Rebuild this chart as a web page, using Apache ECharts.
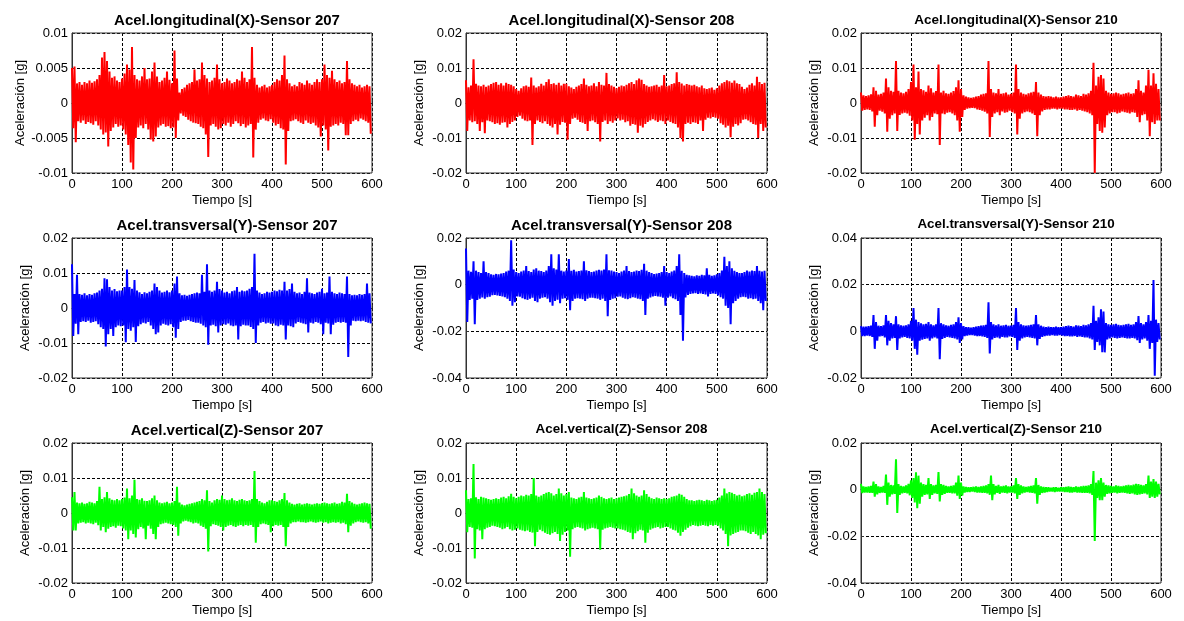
<!DOCTYPE html>
<html><head><meta charset="utf-8">
<script src="https://cdn.jsdelivr.net/npm/echarts@6/dist/echarts.min.js"></script>
<style>html,body{margin:0;padding:0;background:#fff}#c{width:1184px;height:621px}</style>
</head><body><div id="c"></div>
<script>
// ---- DATA (acceleration envelopes, in mg = 0.001 g; one hi/lo pair per 5 s bin) ----
const binSeconds = 5;
const xTicks = [0, 100, 200, 300, 400, 500, 600];

const titles = [
  'Acel.longitudinal(X)-Sensor 207', 'Acel.longitudinal(X)-Sensor 208', 'Acel.longitudinal(X)-Sensor 210',
  'Acel.transversal(Y)-Sensor 207', 'Acel.transversal(Y)-Sensor 208', 'Acel.transversal(Y)-Sensor 210',
  'Acel.vertical(Z)-Sensor 207', 'Acel.vertical(Z)-Sensor 208', 'Acel.vertical(Z)-Sensor 210'
];

const yTicksX207 = [-0.01, -0.005, 0, 0.005, 0.01];
const yTicks20 = [-0.02, -0.01, 0, 0.01, 0.02];
const yTicksLow40 = [-0.04, -0.02, 0, 0.02];
const yTicksHigh40 = [-0.02, 0, 0.02, 0.04];

// X - Sensor 207
const hiX207 = [5.0,5.2,2.8,3.0,2.6,3.0,2.8,3.2,2.9,3.1, 3.4,4.0,6.5,7.3,6.0,4.5,3.6,3.8,3.2,3.0, 3.5,4.2,5.5,4.8,8.0,4.0,3.4,3.2,3.8,5.0, 3.4,3.5,4.5,5.8,3.8,3.0,3.2,3.6,4.5,3.3, 2.8,7.5,3.5,1.5,2.0,2.2,2.6,2.8,3.0,4.8, 3.2,3.4,5.8,4.0,3.5,3.0,3.2,3.6,5.5,3.4, 2.8,3.0,3.5,3.2,2.8,3.0,3.4,3.2,4.5,3.6, 3.0,3.4,8.0,3.6,2.6,2.2,2.4,2.6,2.2,2.4, 2.6,3.0,3.4,3.2,4.0,6.8,3.4,2.8,2.4,2.6, 2.4,3.0,2.8,2.6,3.2,2.8,2.6,3.0,3.4,3.0, 3.4,5.5,4.0,3.6,4.6,3.4,3.0,3.2,2.8,3.0, 6.0,3.4,2.8,2.6,2.4,2.6,2.2,2.4,2.6,2.4];
const loX207 = [-3.6,-5.6,-2.6,-2.8,-2.5,-3.0,-2.7,-2.9,-3.1,-2.6, -3.2,-3.8,-4.5,-4.2,-6.2,-4.0,-3.5,-3.0,-3.4,-3.2, -3.8,-4.5,-6.0,-8.5,-9.5,-5.0,-3.5,-3.2,-3.6,-3.0, -3.8,-5.2,-5.5,-4.8,-3.5,-3.2,-3.0,-3.4,-3.3,-3.6, -3.5,-5.0,-2.5,-1.5,-1.8,-2.0,-2.4,-2.6,-2.8,-2.9, -3.0,-3.4,-3.6,-4.5,-7.7,-3.2,-3.0,-3.4,-3.8,-3.6, -3.0,-3.2,-2.8,-3.4,-3.0,-2.6,-2.9,-3.3,-3.0,-3.5, -3.2,-3.0,-7.8,-3.8,-2.8,-2.4,-2.2,-2.5,-2.6,-2.3, -2.8,-3.2,-3.0,-3.6,-3.8,-8.8,-4.0,-2.6,-2.5,-2.3, -2.6,-2.8,-3.0,-2.5,-2.8,-3.0,-2.8,-3.2,-3.5,-4.8, -3.2,-3.8,-6.8,-3.4,-3.2,-3.0,-3.2,-2.8,-3.0,-4.6, -4.6,-3.0,-2.6,-2.4,-2.6,-2.2,-2.4,-2.6,-2.8,-4.4];

// X - Sensor 208
const hiX208 = [6.5,4.5,5.0,12.5,5.5,5.0,4.8,5.2,4.6,5.0, 5.4,5.8,6.0,5.2,5.6,5.0,5.8,5.4,5.2,4.8, 4.0,3.5,4.2,4.8,5.0,4.6,7.3,5.0,4.4,4.8, 5.5,5.0,6.0,6.8,5.4,5.6,5.2,5.8,5.0,5.5, 5.5,4.8,4.4,4.0,4.6,5.0,5.4,7.0,5.2,4.8, 5.0,5.6,4.8,6.0,5.2,5.0,8.6,5.4,5.0,4.6, 4.2,4.6,5.0,4.8,5.2,5.6,6.0,5.4,6.5,7.0, 6.6,5.4,5.0,4.6,4.8,5.0,5.2,4.6,5.0,8.0, 4.8,5.0,5.4,5.6,8.8,6.0,5.6,5.0,5.4,5.2, 5.0,5.2,4.8,4.5,5.0,4.2,4.0,4.2,4.4,3.8, 4.2,5.0,5.6,6.0,6.5,6.2,5.8,6.4,5.6,5.4, 4.6,4.0,4.4,5.2,5.6,5.0,7.5,6.0,5.4,5.8];
const loX208 = [-8.0,-5.0,-5.5,-5.2,-6.0,-8.0,-5.5,-8.6,-5.0,-5.2, -5.5,-6.0,-5.8,-6.2,-5.6,-5.5,-7.0,-6.0,-5.4,-5.0, -4.0,-3.6,-4.5,-5.0,-5.2,-5.0,-12.0,-6.0,-5.0,-5.4, -5.8,-5.2,-6.0,-6.5,-7.0,-6.0,-9.0,-6.2,-5.4,-5.6, -10.5,-6.0,-4.5,-4.2,-4.8,-5.4,-5.6,-6.0,-8.0,-5.2, -5.0,-5.5,-6.0,-11.0,-5.4,-5.0,-6.0,-5.2,-5.6,-5.0, -4.4,-5.0,-4.8,-5.5,-5.2,-6.5,-6.0,-6.2,-8.5,-6.5, -7.0,-6.0,-5.4,-5.0,-4.6,-5.0,-5.4,-5.0,-5.2,-6.0, -5.0,-5.4,-5.8,-6.0,-7.0,-10.0,-11.0,-6.0,-5.6,-6.0, -5.5,-5.6,-6.0,-5.0,-8.0,-4.8,-4.2,-4.4,-4.0,-4.2, -4.5,-5.8,-6.2,-7.0,-6.5,-9.8,-6.8,-6.0,-6.4,-5.8, -4.8,-4.6,-5.0,-5.5,-6.0,-6.2,-10.0,-6.0,-8.0,-7.0];

// X - Sensor 210
const hiX210 = [3.0,2.2,2.0,2.2,2.5,4.5,3.5,2.4,2.6,3.0, 7.0,4.5,3.5,3.2,12.0,3.5,3.0,2.8,3.2,4.0, 6.0,11.0,4.5,9.0,4.0,3.6,3.2,5.0,4.2,3.0, 3.4,11.0,3.0,3.5,2.8,2.6,3.0,3.4,4.5,6.5, 4.0,2.2,1.8,1.6,1.5,1.6,1.8,2.0,2.4,2.6, 2.8,12.0,4.0,3.0,2.8,4.0,2.6,2.8,3.0,2.4, 2.6,3.0,11.0,4.0,3.0,2.6,2.4,2.8,3.0,3.2, 6.0,3.0,2.4,2.0,1.8,2.0,1.8,1.6,1.8,1.6, 1.6,1.8,2.0,2.2,2.0,1.8,2.4,2.2,2.0,2.6, 2.4,2.8,3.5,11.5,5.0,7.5,8.0,7.0,3.5,3.0, 2.6,2.8,3.0,2.8,2.4,2.6,2.8,3.0,2.6,2.8, 4.0,6.5,3.5,3.0,5.0,9.5,5.0,8.5,5.5,4.0];
const loX210 = [-2.2,-2.0,-1.8,-2.0,-2.4,-6.8,-3.5,-2.2,-2.5,-3.0, -8.2,-4.5,-3.5,-3.0,-8.0,-3.4,-3.0,-2.8,-3.0,-3.6, -5.0,-10.5,-6.0,-9.0,-5.0,-4.2,-3.5,-5.0,-4.0,-3.0, -3.2,-12.0,-3.0,-3.2,-2.8,-2.6,-3.0,-3.5,-5.0,-8.2, -4.0,-2.0,-1.6,-1.5,-1.4,-1.5,-1.8,-2.0,-2.2,-2.5, -3.0,-9.7,-4.0,-3.0,-2.6,-3.5,-2.4,-2.8,-2.6,-2.2, -2.6,-3.0,-9.0,-4.5,-3.0,-2.6,-2.4,-2.6,-3.0,-3.4, -9.5,-3.5,-2.4,-2.0,-1.8,-1.8,-1.6,-1.6,-1.8,-1.6, -1.6,-1.8,-1.8,-2.0,-2.0,-1.8,-2.2,-2.0,-2.2,-2.4, -2.6,-3.0,-3.5,-20.0,-6.0,-8.0,-8.5,-7.0,-3.5,-3.0, -2.6,-2.6,-3.0,-2.8,-2.4,-2.6,-2.8,-3.0,-2.6,-2.8, -4.0,-5.5,-3.5,-3.2,-5.0,-9.5,-5.5,-6.0,-5.0,-5.0];

// Y - Sensor 207
const hiY207 = [12.5,4.0,9.5,4.0,3.8,4.2,3.6,4.0,3.8,4.2, 4.4,5.0,5.5,8.5,8.2,6.0,5.0,5.4,4.8,5.0, 5.0,6.0,11.0,6.0,5.5,8.0,5.0,4.5,4.0,4.5, 4.2,4.6,5.0,7.0,6.0,5.0,4.4,4.6,5.0,4.5, 5.0,7.0,9.0,4.2,3.6,3.8,3.5,3.8,4.0,4.2, 4.4,4.2,9.5,4.6,12.5,5.0,4.6,5.0,7.5,5.4, 5.0,4.4,4.6,4.2,4.8,5.0,6.0,4.6,5.0,4.8, 5.0,5.5,6.0,15.5,5.0,4.4,4.0,4.2,4.6,4.4, 4.6,5.0,4.8,5.2,5.0,7.5,5.0,5.4,7.0,4.6, 4.2,4.4,4.0,4.6,8.5,4.4,4.2,4.0,4.4,4.6, 5.5,4.2,4.4,9.0,4.6,4.2,4.0,4.4,4.2,4.0, 9.0,4.0,3.6,3.8,3.6,4.0,3.8,4.0,7.0,4.2];
const loY207 = [-8.0,-4.5,-7.5,-4.0,-3.8,-4.0,-3.6,-4.2,-4.0,-3.8, -4.6,-5.5,-6.0,-11.0,-7.5,-6.0,-8.0,-5.5,-5.0,-5.2, -5.0,-9.8,-6.0,-6.5,-5.5,-9.7,-5.2,-4.6,-4.2,-4.4, -4.0,-5.0,-6.0,-7.5,-7.0,-5.0,-4.5,-4.8,-5.0,-4.6, -5.5,-8.5,-6.0,-4.0,-3.6,-3.6,-3.4,-3.8,-4.0,-4.2, -4.2,-4.5,-5.0,-5.5,-10.5,-5.0,-4.8,-5.2,-7.0,-5.0, -4.6,-4.8,-4.4,-5.0,-5.2,-5.0,-9.0,-5.2,-4.8,-5.0, -5.0,-5.4,-6.0,-10.0,-5.0,-4.2,-4.0,-4.4,-4.2,-4.5, -4.4,-5.0,-5.2,-4.8,-5.0,-9.0,-5.0,-5.2,-5.5,-4.4, -4.0,-4.2,-4.4,-4.6,-7.0,-4.2,-4.4,-4.0,-4.2,-4.6, -7.5,-4.2,-4.4,-7.5,-4.8,-4.2,-4.0,-4.2,-4.0,-4.2, -14.0,-5.0,-3.6,-3.8,-3.6,-3.8,-3.6,-4.0,-4.2,-4.4];

// Y - Sensor 208
const hiY208 = [15.5,6.0,5.5,10.0,6.0,5.4,5.0,10.0,5.4,5.0, 4.4,4.2,4.6,4.4,4.8,5.0,5.6,6.0,19.0,6.5, 5.4,5.0,5.6,6.0,8.0,5.8,5.4,6.5,7.0,6.0, 5.8,5.4,6.0,8.0,13.0,7.0,6.5,13.0,6.0,5.6, 6.0,11.0,6.0,6.4,5.6,5.8,6.0,10.0,6.2,5.8, 5.4,5.6,6.0,6.4,6.0,6.5,13.0,6.2,6.0,5.6, 5.4,5.0,5.6,6.0,8.0,5.8,5.4,5.6,6.0,5.8, 6.4,9.0,6.0,5.4,5.0,4.6,4.8,5.0,5.4,8.0, 5.4,5.0,5.6,6.0,8.0,13.0,6.0,5.0,4.2,4.0, 3.8,3.6,4.0,3.8,4.2,4.0,7.0,4.2,3.8,4.0, 4.4,5.0,6.0,12.0,8.0,10.0,7.0,6.0,5.4,5.0, 5.0,5.4,6.0,5.6,6.0,5.8,8.0,6.0,5.6,6.0];
const loY208 = [-16.0,-6.5,-6.0,-17.0,-6.5,-6.0,-5.5,-6.0,-5.4,-5.2, -4.5,-4.4,-4.6,-4.8,-5.0,-5.4,-6.0,-7.0,-9.0,-7.5, -5.0,-5.2,-5.8,-6.2,-6.5,-6.0,-5.6,-7.0,-7.5,-6.0, -5.6,-5.4,-6.0,-7.5,-9.0,-7.0,-6.5,-8.0,-6.0,-5.8, -6.5,-11.0,-7.0,-6.0,-5.8,-6.0,-6.2,-7.0,-6.0,-5.6, -5.6,-5.8,-6.0,-6.5,-6.0,-7.0,-13.5,-6.5,-6.0,-5.8, -5.2,-5.0,-5.6,-6.0,-6.2,-5.8,-5.4,-5.6,-6.0,-6.2, -7.0,-13.0,-6.0,-5.5,-5.0,-4.8,-5.0,-5.2,-5.6,-9.0, -5.6,-5.0,-5.8,-6.2,-7.0,-13.0,-24.0,-5.5,-4.4,-4.0, -3.8,-3.6,-4.0,-3.8,-4.0,-4.2,-5.0,-4.0,-3.8,-4.0, -4.6,-5.4,-6.0,-9.0,-10.0,-17.0,-8.0,-7.0,-6.0,-5.4, -5.2,-5.4,-6.0,-5.8,-6.2,-6.0,-7.0,-8.0,-11.0,-7.0];

// Y - Sensor 210
const hiY210 = [2.2,2.0,2.0,2.2,2.4,7.0,4.0,2.4,2.2,2.6, 7.0,4.5,3.5,3.0,6.5,3.0,2.6,2.4,2.6,3.0, 4.5,10.0,5.0,4.0,3.4,3.0,3.2,4.0,3.0,2.6, 3.0,10.0,3.5,3.0,2.6,2.4,2.8,3.0,4.0,6.0, 3.5,2.2,1.8,1.8,1.6,1.8,2.0,2.2,2.4,2.6, 2.8,12.5,4.0,3.0,2.6,3.0,2.4,2.6,2.8,2.4, 2.4,2.8,10.0,4.0,3.0,2.6,2.4,2.6,2.8,3.0, 7.0,3.0,2.4,2.0,1.8,2.0,1.8,1.8,2.0,1.8, 1.8,2.0,2.2,2.4,2.2,2.0,2.6,2.4,2.2,2.8, 2.6,3.0,3.5,11.0,4.5,6.0,9.5,8.5,3.5,3.0, 2.8,3.0,3.2,2.8,2.6,2.8,3.0,3.2,2.8,3.0, 4.0,6.5,3.5,3.0,4.0,7.0,4.5,22.0,5.0,3.5];
const loY210 = [-2.0,-2.0,-1.8,-2.0,-2.4,-7.5,-4.0,-2.2,-2.0,-2.6, -6.0,-4.0,-3.0,-2.8,-8.0,-3.0,-2.6,-2.4,-2.8,-3.0, -4.0,-7.5,-10.0,-4.0,-3.6,-3.2,-3.0,-4.0,-3.0,-2.6, -3.0,-12.0,-3.2,-2.8,-2.4,-2.6,-2.8,-3.0,-3.5,-5.0, -3.5,-2.0,-1.8,-1.6,-1.6,-1.8,-2.0,-2.0,-2.2,-2.4, -2.8,-9.5,-3.5,-2.8,-2.6,-3.0,-2.4,-2.6,-2.6,-2.2, -2.4,-2.8,-8.0,-4.0,-3.0,-2.6,-2.4,-2.6,-2.8,-3.0, -6.0,-3.2,-2.4,-2.0,-1.8,-1.8,-1.6,-1.8,-1.8,-1.6, -1.8,-2.0,-2.0,-2.2,-2.2,-2.0,-2.4,-2.2,-2.4,-2.6, -2.6,-3.0,-3.5,-8.0,-4.5,-6.0,-9.0,-9.0,-3.5,-3.0, -2.6,-2.8,-3.0,-2.8,-2.6,-2.8,-3.0,-3.0,-2.8,-3.0, -3.8,-5.0,-3.5,-3.0,-4.0,-7.5,-5.0,-19.0,-4.5,-3.5];

// Z - Sensor 207
const hiZ207 = [4.5,6.0,3.0,2.8,3.0,2.6,2.8,3.2,3.0,2.8, 3.4,7.5,4.0,4.5,6.0,4.2,3.8,3.6,4.0,3.6, 4.0,4.4,7.0,4.2,5.0,9.5,4.0,3.8,4.2,3.5, 3.4,3.6,4.2,5.0,3.6,3.0,2.8,3.0,3.2,2.8, 3.0,3.4,7.5,3.0,2.4,2.2,2.4,2.6,2.8,3.0, 3.2,3.4,4.0,3.6,6.5,3.4,3.0,3.6,4.0,3.8, 5.0,4.0,3.6,3.8,4.2,3.6,3.4,3.8,4.0,3.6, 3.4,3.6,4.0,12.0,4.0,3.4,3.0,2.8,3.2,3.6, 3.6,3.4,3.2,3.6,4.0,5.7,3.6,3.0,2.6,2.4, 2.6,2.8,2.4,2.6,2.8,2.6,2.4,2.6,2.8,2.6, 2.8,3.0,2.8,2.6,2.8,3.0,2.6,2.8,3.2,3.0, 5.5,3.4,3.0,2.6,2.4,2.6,2.8,3.0,2.8,2.6];
const loZ207 = [-5.0,-5.0,-3.0,-2.8,-2.6,-3.0,-2.8,-3.0,-3.2,-2.8, -3.5,-5.0,-4.0,-5.5,-4.5,-4.0,-3.8,-4.2,-3.6,-3.8, -4.4,-5.0,-7.5,-5.0,-6.0,-7.0,-4.6,-4.0,-4.4,-7.5, -3.6,-4.5,-6.0,-7.5,-4.0,-3.2,-3.0,-2.8,-3.0,-3.2, -3.4,-4.0,-6.5,-3.0,-2.4,-2.2,-2.4,-2.6,-3.0,-2.8, -3.0,-3.6,-4.0,-4.5,-11.0,-3.8,-3.2,-3.4,-3.6,-4.0, -5.0,-4.0,-3.6,-3.4,-3.8,-4.0,-3.6,-3.4,-3.8,-3.4, -3.6,-3.4,-4.0,-8.5,-4.0,-3.2,-3.0,-3.2,-3.4,-5.5, -3.8,-3.4,-3.6,-3.4,-4.0,-9.5,-4.0,-3.0,-2.6,-2.6, -2.4,-2.6,-2.6,-2.8,-2.6,-2.4,-2.6,-2.8,-2.6,-2.4, -2.8,-2.6,-3.0,-2.8,-2.6,-2.8,-2.6,-3.0,-2.8,-3.2, -5.5,-3.6,-3.0,-2.6,-2.4,-2.6,-2.8,-2.6,-3.0,-4.5];

// Z - Sensor 208
const hiZ208 = [6.5,4.0,4.2,14.0,4.5,4.0,4.6,4.4,4.2,4.0, 3.8,4.0,4.2,4.0,4.4,4.6,4.2,4.8,5.5,4.6, 4.2,4.6,5.0,4.8,5.2,5.0,5.4,10.0,5.0,4.6, 5.0,5.4,5.8,6.0,5.6,5.0,5.4,7.0,5.6,5.0, 5.4,6.0,4.4,4.2,4.0,4.4,4.6,6.0,4.4,4.2, 4.0,4.2,4.4,5.0,4.6,4.2,4.0,4.2,4.4,4.0, 4.2,4.4,4.6,4.8,5.0,5.4,7.0,5.6,5.0,4.6, 5.0,6.5,5.4,4.6,4.2,4.0,4.4,4.2,4.0,4.2, 4.0,4.2,4.6,4.8,5.0,5.5,5.2,4.6,4.0,3.6, 3.6,3.4,3.6,3.8,3.6,3.4,3.8,3.6,3.4,3.6, 3.8,4.4,5.0,7.0,5.6,6.0,5.8,5.4,5.0,5.2, 4.8,5.0,5.4,5.6,5.2,5.8,6.0,7.0,6.0,5.4];
const loZ208 = [-5.5,-4.0,-4.2,-13.0,-4.6,-5.0,-7.5,-4.6,-4.2,-4.0, -3.6,-3.8,-4.0,-4.2,-4.6,-4.4,-4.0,-4.6,-5.0,-4.8, -4.4,-4.8,-5.0,-5.2,-5.0,-5.4,-5.6,-9.5,-5.4,-4.8, -5.2,-5.6,-6.0,-6.2,-5.8,-5.4,-6.0,-8.0,-6.2,-5.4, -5.0,-12.5,-4.6,-4.2,-4.0,-4.2,-4.4,-5.0,-4.6,-4.4, -4.2,-4.4,-4.6,-10.5,-4.8,-4.4,-4.2,-4.0,-4.2,-4.4, -4.4,-4.6,-4.8,-5.0,-5.4,-5.6,-7.5,-5.8,-5.2,-4.8, -5.0,-8.5,-5.6,-4.8,-4.4,-4.2,-4.0,-4.4,-4.2,-4.0, -4.0,-4.4,-4.8,-5.0,-5.6,-6.5,-5.4,-4.8,-4.2,-3.8, -3.4,-3.6,-3.8,-3.6,-3.4,-3.6,-3.8,-3.4,-3.6,-3.4, -3.6,-4.4,-5.0,-6.0,-9.5,-6.4,-6.0,-5.6,-5.4,-5.0, -5.0,-5.2,-5.6,-6.0,-5.4,-6.0,-6.4,-7.5,-6.2,-5.8];

// Z - Sensor 210
const hiZ210 = [2.5,1.4,1.2,1.4,1.6,3.5,2.4,1.4,1.2,1.6, 6.5,3.0,2.0,1.8,13.0,2.4,1.6,1.4,1.8,2.5, 4.0,5.0,7.5,6.0,3.0,2.4,2.0,5.0,2.4,1.8, 2.0,7.5,2.4,2.0,1.6,1.4,1.6,1.8,3.0,6.0, 3.0,1.4,1.2,1.0,1.0,1.2,1.4,1.2,1.4,1.6, 1.8,2.4,6.0,2.4,1.6,2.0,1.4,1.6,1.8,1.4, 1.4,1.8,5.0,2.4,1.8,1.4,1.2,1.4,1.6,1.8, 5.0,2.0,1.4,1.2,1.0,1.0,0.8,1.0,1.0,0.8, 1.0,1.0,1.2,1.4,1.2,1.0,1.4,1.2,1.4,1.6, 1.6,1.8,2.4,8.0,3.0,4.0,5.0,3.0,2.0,1.8, 1.6,1.4,1.8,1.6,1.4,1.6,1.8,2.0,1.8,2.2, 2.5,2.4,2.0,1.8,2.4,6.0,3.5,4.5,3.5,2.5];
const loZ210 = [-1.5,-1.2,-1.2,-1.4,-1.4,-3.0,-2.0,-1.4,-1.2,-1.4, -6.5,-3.0,-2.0,-1.8,-10.0,-2.2,-1.6,-1.4,-1.6,-2.4, -3.5,-5.5,-8.0,-6.0,-3.0,-2.2,-2.0,-4.0,-2.2,-1.6, -1.8,-5.0,-2.2,-1.8,-1.4,-1.4,-1.6,-1.6,-2.6,-4.0, -2.5,-1.2,-1.0,-1.0,-0.8,-1.0,-1.2,-1.2,-1.4,-1.4, -1.6,-2.2,-4.5,-2.0,-1.4,-1.8,-1.2,-1.4,-1.6,-1.2, -1.2,-1.6,-4.0,-2.2,-1.6,-1.2,-1.0,-1.2,-1.4,-1.6, -6.0,-2.2,-1.4,-1.2,-1.0,-0.8,-0.8,-1.0,-0.8,-0.8, -0.8,-1.0,-1.0,-1.2,-1.2,-1.0,-1.2,-1.2,-1.4,-1.4, -1.4,-1.6,-2.2,-22.0,-3.5,-4.5,-4.5,-3.0,-1.8,-1.6, -1.4,-1.2,-1.6,-1.4,-1.2,-1.4,-1.6,-1.8,-1.6,-2.0, -2.2,-2.0,-1.8,-1.6,-2.0,-3.5,-3.0,-3.5,-3.0,-2.0];

// ---- CHART ----
const panels = [
  {hi: hiX207, lo: loX207, ticks: yTicksX207, color: '#ff0000'},
  {hi: hiX208, lo: loX208, ticks: yTicks20, color: '#ff0000'},
  {hi: hiX210, lo: loX210, ticks: yTicks20, color: '#ff0000'},
  {hi: hiY207, lo: loY207, ticks: yTicks20, color: '#0000ff'},
  {hi: hiY208, lo: loY208, ticks: yTicksLow40, color: '#0000ff'},
  {hi: hiY210, lo: loY210, ticks: yTicksHigh40, color: '#0000ff'},
  {hi: hiZ207, lo: loZ207, ticks: yTicks20, color: '#00ff00'},
  {hi: hiZ208, lo: loZ208, ticks: yTicks20, color: '#00ff00'},
  {hi: hiZ210, lo: loZ210, ticks: yTicksLow40, color: '#00ff00'}
];
const titleSizes = [15, 15, 13.5, 15, 15, 13.4, 15, 13.4, 13.4];

const colLeft = [72, 466, 861], colWidth = [300, 301, 300];
const rowTop = [33, 238, 443], plotH = 140;
const boxColor = '#333333';
const FONT = '"Liberation Sans", Arial, sans-serif';

const option = {animation: false, backgroundColor: '#fff', title: [], grid: [], xAxis: [], yAxis: [], series: []};

panels.forEach((p, k) => {
  const r = Math.floor(k / 3), c = k % 3;
  const left = colLeft[c], top = rowTop[r], w = colWidth[c];
  option.title.push({
    text: titles[k], left: left + w / 2, top: top - 25, textAlign: 'center',
    textStyle: {fontFamily: FONT, fontWeight: 'bold', fontSize: titleSizes[k], color: '#000'}
  });
  option.grid.push({left: left, top: top, width: w, height: plotH, show: true, borderColor: boxColor, borderWidth: 1, backgroundColor: 'transparent', z: 3});
  option.xAxis.push({
    type: 'value', gridIndex: k, min: xTicks[0], max: xTicks[xTicks.length - 1], interval: xTicks[1] - xTicks[0],
    name: 'Tiempo [s]', nameLocation: 'middle', nameGap: 21,
    nameTextStyle: {fontFamily: FONT, fontSize: 13, color: '#000'},
    axisLine: {show: true, lineStyle: {color: boxColor, width: 1}},
    axisTick: {show: true, inside: true, length: 3, lineStyle: {color: boxColor}},
    axisLabel: {fontFamily: FONT, fontSize: 13, color: '#000', margin: 5},
    splitLine: {show: true, lineStyle: {color: '#000', type: [3, 2], width: 1}}
  });
  const t = p.ticks, step = t[1] - t[0];
  option.yAxis.push({
    type: 'value', gridIndex: k, min: t[0], max: t[t.length - 1], interval: step,
    name: 'Aceleración [g]', nameLocation: 'middle', nameGap: 40,
    nameTextStyle: {fontFamily: FONT, fontSize: 13, color: '#000'},
    axisLine: {show: true, lineStyle: {color: boxColor, width: 1}},
    axisTick: {show: true, inside: true, length: 3, lineStyle: {color: boxColor}},
    axisLabel: {fontFamily: FONT, fontSize: 13, color: '#000', margin: 4,
      formatter: v => String(t[Math.round((v - t[0]) / step)])},
    splitLine: {show: true, lineStyle: {color: '#000', type: [3, 2], width: 1}}
  });
  const pts = [];
  for (let i = 0; i < p.hi.length; i++) {
    pts.push([i * binSeconds, p.hi[i] / 1000]);
    pts.push([i * binSeconds + binSeconds / 2, p.lo[i] / 1000]);
  }
  option.series.push({
    type: 'line', xAxisIndex: k, yAxisIndex: k, data: pts, showSymbol: false, symbol: 'none',
    sampling: null, clip: true, lineStyle: {color: p.color, width: 2, join: 'miter', miterLimit: 2}, itemStyle: {color: p.color}
  });
});

const chart = echarts.init(document.getElementById('c'), null, {renderer: 'canvas'});
chart.setOption(option);
</script>
</body></html>
